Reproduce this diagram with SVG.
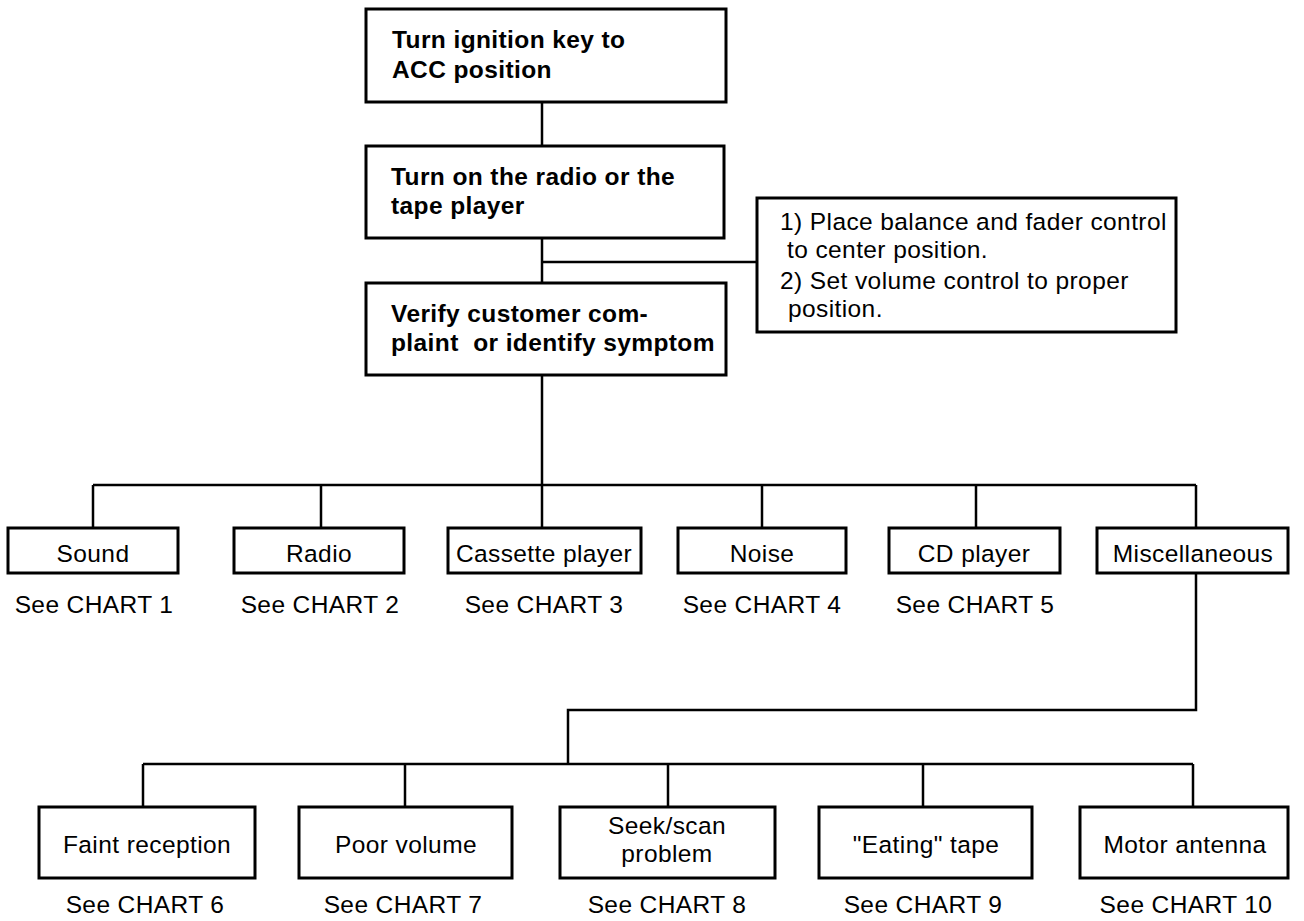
<svg xmlns="http://www.w3.org/2000/svg" width="1304" height="921" viewBox="0 0 1304 921">
<style>
.box{fill:#fff;stroke:#000;stroke-width:3}
.ln{fill:none;stroke:#000;stroke-width:2.5}
.b{font-family:"Liberation Sans",Arial,sans-serif;font-weight:bold;font-size:24.5px;letter-spacing:0.4px;fill:#000;white-space:pre}
.t{font-family:"Liberation Sans",Arial,sans-serif;font-size:24.5px;letter-spacing:0.4px;fill:#000}
.c{text-anchor:middle}
</style>
<rect width="1304" height="921" fill="#fff"/>
<g id="connectors">
<path class="ln" d="M542 102V146M542 238V283M542 262H757M542 375V485M93 485H1196M93 485V528M321 485V528M542 485V528M762 485V528M976 485V528M1196 485V528"/>
<path class="ln" d="M1196 573V710H568V764M143 764H1193M143 764V807M405 764V807M668 764V807M923 764V807M1193 764V807"/>
</g>
<g id="n1"><rect class="box" x="366" y="9" width="360" height="93"/><text class="b" x="392" y="48">Turn ignition key to</text><text class="b" x="392" y="78">ACC position</text></g>
<g id="n2"><rect class="box" x="366" y="146" width="358" height="92"/><text class="b" x="391" y="185">Turn on the radio or the</text><text class="b" x="391" y="214">tape player</text></g>
<g id="n3"><rect class="box" x="366" y="283" width="360" height="92"/><text class="b" x="391" y="322">Verify customer com-</text><text class="b" x="391" y="351" xml:space="preserve">plaint  or identify symptom</text></g>
<g id="note"><rect class="box" x="757" y="198" width="419" height="134"/><text class="t" x="780" y="230">1) Place balance and fader control</text><text class="t" x="787" y="258">to center position.</text><text class="t" x="780" y="289">2) Set volume control to proper</text><text class="t" x="788" y="317">position.</text></g>
<g id="sound"><rect class="box" x="8" y="528" width="170" height="45"/><text class="t c" x="93" y="562">Sound</text><text class="t c" x="94" y="613">See CHART 1</text></g>
<g id="radio"><rect class="box" x="234" y="528" width="170" height="45"/><text class="t c" x="319" y="562">Radio</text><text class="t c" x="320" y="613">See CHART 2</text></g>
<g id="cassette"><rect class="box" x="448" y="528" width="193" height="45"/><text class="t c" x="544" y="562">Cassette player</text><text class="t c" x="544" y="613">See CHART 3</text></g>
<g id="noise"><rect class="box" x="678" y="528" width="168" height="45"/><text class="t c" x="762" y="562">Noise</text><text class="t c" x="762" y="613">See CHART 4</text></g>
<g id="cd"><rect class="box" x="889" y="528" width="171" height="45"/><text class="t c" x="974" y="562">CD player</text><text class="t c" x="975" y="613">See CHART 5</text></g>
<g id="misc"><rect class="box" x="1097" y="528" width="191" height="45"/><text class="t c" x="1193" y="562">Miscellaneous</text></g>
<g id="faint"><rect class="box" x="39" y="807" width="216" height="71"/><text class="t c" x="147" y="853">Faint reception</text><text class="t c" x="145" y="913">See CHART 6</text></g>
<g id="poor"><rect class="box" x="299" y="807" width="213" height="71"/><text class="t c" x="406" y="853">Poor volume</text><text class="t c" x="403" y="913">See CHART 7</text></g>
<g id="seek"><rect class="box" x="560" y="807" width="215" height="71"/><text class="t c" x="667" y="834">Seek/scan</text><text class="t c" x="667" y="862">problem</text><text class="t c" x="667" y="913">See CHART 8</text></g>
<g id="eating"><rect class="box" x="819" y="807" width="213" height="71"/><text class="t c" x="926" y="853">"Eating" tape</text><text class="t c" x="923" y="913">See CHART 9</text></g>
<g id="motor"><rect class="box" x="1080" y="807" width="208" height="71"/><text class="t c" x="1185" y="853">Motor antenna</text><text class="t c" x="1186" y="913">See CHART 10</text></g>
</svg>
